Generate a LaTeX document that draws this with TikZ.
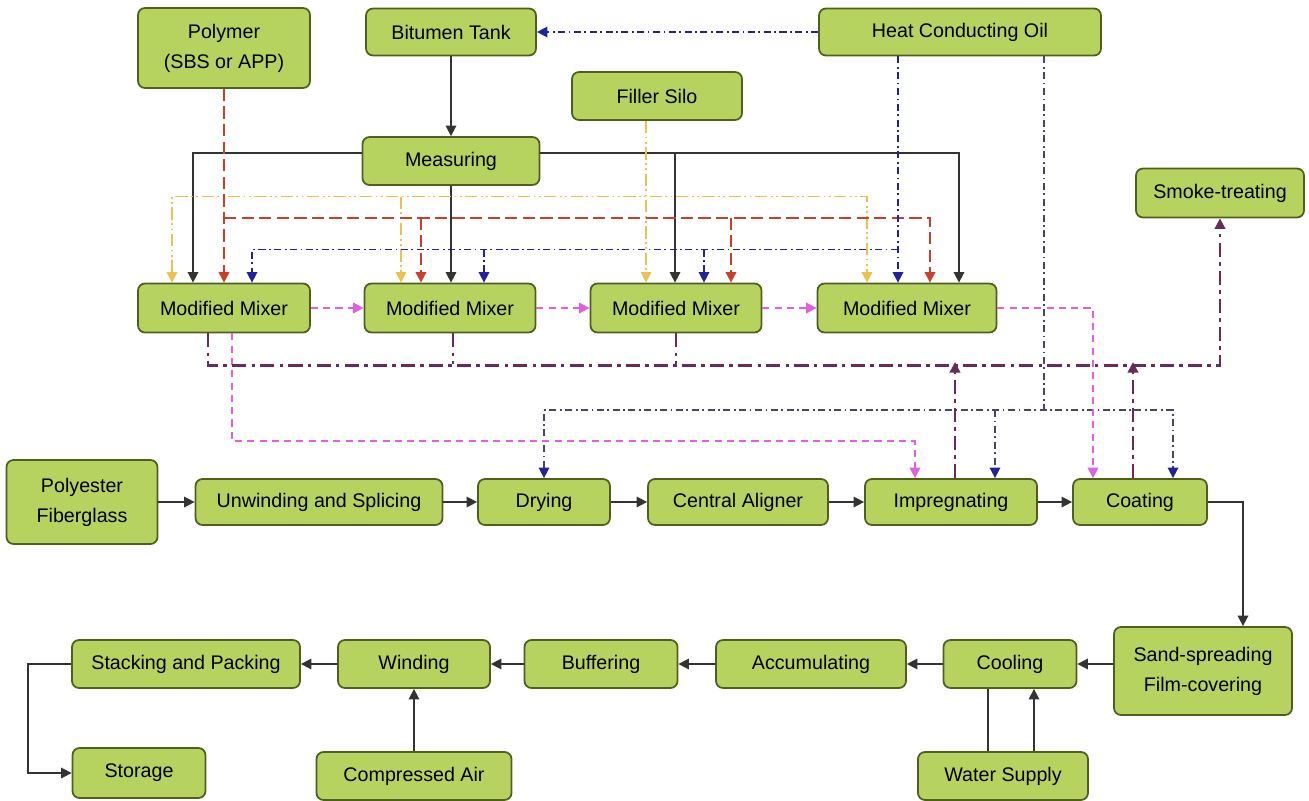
\documentclass[tikz,border=0pt]{standalone}
\usepackage{fontspec}
\setmainfont{Liberation Sans}
\usetikzlibrary{calc, arrows.meta}

%definition of colours
\definecolor{boxfill}{HTML}{B5D35E}
\definecolor{boxline}{HTML}{4F5F1F}
\definecolor{oilblue}{HTML}{22229A}
\definecolor{oildark}{HTML}{4A4660}
\definecolor{fillyel}{HTML}{EEC050}
\definecolor{polyred}{HTML}{C8402A}
\definecolor{mixmag}{HTML}{E060E0}
\definecolor{smokepur}{HTML}{6A2A5A}

\tikzset{
	box/.style={draw=boxline, fill=boxfill, line width=1pt, rounded corners=4pt, align=center, inner sep=2pt, font=\fontsize{11.2}{17}\selectfont},
	sz/.style 2 args={minimum width=#1*0.02cm, minimum height=#2*0.02cm},
	tip/.style={-{Triangle[length=6pt, width=6pt]}},
	tips/.style={{Triangle[length=6pt, width=6pt]}-{Triangle[length=6pt, width=6pt]}},
	flow/.style={draw=black!80, line width=0.9pt},
	yel/.style={draw=fillyel, line width=0.9pt, dash pattern=on 7pt off 2pt on 1pt off 2pt on 1pt off 2pt},
	red/.style={draw=polyred, line width=1.1pt, dash pattern=on 7pt off 3pt},
	blu/.style={draw=oilblue, line width=0.9pt, dash pattern=on 4pt off 2pt on 1pt off 2pt},
	hot/.style={draw=oildark, line width=0.9pt, dash pattern=on 4pt off 2pt on 1pt off 2pt},
	hottip/.style={-{Triangle[length=6pt, width=6pt, color=oilblue]}},
	hottips/.style={{Triangle[length=6pt, width=6pt, color=oilblue]}-{Triangle[length=6pt, width=6pt, color=oilblue]}},
	mag/.style={draw=mixmag, line width=1.2pt, dash pattern=on 4pt off 3pt},
	pur/.style={draw=smokepur, line width=1.3pt, dash pattern=on 8pt off 3pt on 2pt off 3pt},
}

\begin{document}
\begin{tikzpicture}[x=0.02cm, y=-0.02cm]
		%size of the picture
		\useasboundingbox (0,0) rectangle (1309,801);
		
		%raw materials
		\node [box, sz={172}{80}] (poly) at (224,48) {Polymer\\(SBS or APP)};
		\node [box, sz={170}{47}] (bit) at (451,32) {Bitumen Tank};
		\node [box, sz={282}{47}] (hco) at (960,32) {Heat Conducting Oil};
		\node [box, sz={170}{48}] (silo) at (657,96) {Filler Silo};
		\node [box, sz={177}{48}] (meas) at (451,161) {Measuring};
		\node [box, sz={168}{49}] (smoke) at (1220,193) {Smoke-treating};
		
		%mixers
		\node [box, sz={172}{49}] (mix1) at (224,308) {Modified Mixer};
		\node [box, sz={171}{49}] (mix2) at (450,308) {Modified Mixer};
		\node [box, sz={171}{49}] (mix3) at (676,308) {Modified Mixer};
		\node [box, sz={179}{49}] (mix4) at (907,308) {Modified Mixer};
		
		%production line
		\node [box, sz={151}{84}] (fib) at (82,502) {Polyester\\Fiberglass};
		\node [box, sz={247}{46}] (unw) at (319,502) {Unwinding and Splicing};
		\node [box, sz={132}{46}] (dry) at (544,502) {Drying};
		\node [box, sz={180}{46}] (cal) at (738,502) {Central Aligner};
		\node [box, sz={172}{46}] (imp) at (951,502) {Impregnating};
		\node [box, sz={134}{46}] (coat) at (1140,502) {Coating};
		\node [box, sz={178}{88}] (sand) at (1203,671) {Sand-spreading\\Film-covering};
		\node [box, sz={133}{48}] (cool) at (1010,664) {Cooling};
		\node [box, sz={190}{48}] (acc) at (811,664) {Accumulating};
		\node [box, sz={153}{48}] (buf) at (601,664) {Buffering};
		\node [box, sz={152}{48}] (wind) at (414,664) {Winding};
		\node [box, sz={228}{48}] (stack) at (186,664) {Stacking and Packing};
		\node [box, sz={133}{50}] (stor) at (139,773) {Storage};
		\node [box, sz={195}{48}] (air) at (414,776) {Compressed Air};
		\node [box, sz={170}{48}] (water) at (1003,776) {Water Supply};
		
		%bitumen
		\draw [flow, tip] (bit) -- (meas);
		\draw [flow, tip] (meas) -- (meas |- mix2.north);
		\draw [flow, tip] ($(meas.west)+(0,-8)$) -| ($(mix1.north)+(-31,0)$);
		\draw [flow, tip] ($(meas.east)+(0,-8)$) -| ($(mix4.north)+(52,0)$);
		\draw [flow, tip] ($(mix3.north)+(-1,-130)$) -- ($(mix3.north)+(-1,0)$);
		
		%filler
		\draw [yel, tip] ($(silo.south)+(-11,0)$) -- ($(mix3.north)+(-30,0)$);
		\draw [yel, tips] ($(mix1.north)+(-52,0)$) |- ($(mix4.north)+(-40,-86)$) -- ($(mix4.north)+(-40,0)$);
		\draw [yel, tip] ($(mix2.north)+(-49,-86)$) -- ($(mix2.north)+(-49,0)$);
		
		%polymer
		\draw [red, tip] (poly) -- (poly |- mix1.north);
		\draw [red, tip] ($(mix1.north)+(0,-65)$) -| ($(mix4.north)+(23,0)$);
		\draw [red, tip] ($(mix2.north)+(-29,-65)$) -- ($(mix2.north)+(-29,0)$);
		\draw [red, tip] ($(mix3.north)+(55,-65)$) -- ($(mix3.north)+(55,0)$);
		
		%heat conducting oil
		\draw [blu, tip] (hco) -- (bit);
		\draw [blu, tip] ($(hco.south)+(-62,0)$) -- ($(mix4.north)+(-9,0)$);
		\draw [blu, tip] ($(mix4.north)+(-9,-33)$) -| ($(mix1.north)+(28,0)$);
		\draw [blu, tip] ($(mix2.north)+(34,-33)$) -- ($(mix2.north)+(34,0)$);
		\draw [blu, tip] ($(mix3.north)+(28,-33)$) -- ($(mix3.north)+(28,0)$);
		\draw [hot] ($(hco.south)+(84,0)$) -- ($(hco.south)+(84,356)$);
		\draw [hot, hottips] (dry) |- ($(coat.north)+(33,-68)$) -- ($(coat.north)+(33,0)$);
		\draw [hot, hottip] ($(imp.north)+(44,-68)$) -- ($(imp.north)+(44,0)$);
		
		%modified bitumen
		\draw [mag, tip] (mix1) -- (mix2);
		\draw [mag, tip] (mix2) -- (mix3);
		\draw [mag, tip] (mix3) -- (mix4);
		\draw [mag, tip] (mix4.east) -| ($(coat.north)+(-47,0)$);
		\draw [mag, tip] ($(mix1.south)+(8,0)$) |- ($(imp.north)+(-36,-37)$) -- ($(imp.north)+(-36,0)$);
		
		%smoke
		\draw [pur, tip] ($(mix1.south)+(-16,0)$) |- ($(smoke.south)+(0,147)$) -- (smoke.south);
		\draw [pur, line width=0.7pt] ($(mix2.south)+(3,0)$) -- ($(mix2.south)+(3,31)$);
		\draw [pur, line width=0.7pt] ($(mix3.south)+(0,0)$) -- ($(mix3.south)+(0,31)$);
		\draw [pur, tip] ($(imp.north)+(4,0)$) -- ($(imp.north)+(4,-116)$);
		\draw [pur, tip] ($(coat.north)+(-7,0)$) -- ($(coat.north)+(-7,-116)$);
		
		%production flow
		\draw [flow, tip] (fib) -- (unw);
		\draw [flow, tip] (unw) -- (dry);
		\draw [flow, tip] (dry) -- (cal);
		\draw [flow, tip] (cal) -- (imp);
		\draw [flow, tip] (imp) -- (coat);
		\draw [flow, tip] (coat.east) -| ($(sand.north)+(40,0)$);
		\draw [flow, tip] (sand.west |- cool) -- (cool);
		\draw [flow, tip] (cool) -- (acc);
		\draw [flow, tip] (acc) -- (buf);
		\draw [flow, tip] (buf) -- (wind);
		\draw [flow, tip] (wind) -- (stack);
		\draw [flow, tip] (stack.west) -- ++(-43,0) |- (stor.west);
		\draw [flow, tip] (air) -- (wind);
		
		%cooling water
		\draw [flow] ($(cool.south)+(-22,0)$) -- ($(water.north)+(-15,0)$);
		\draw [flow, tip] ($(water.north)+(31,0)$) -- ($(cool.south)+(24,0)$);
	\end{tikzpicture}
\end{document}
